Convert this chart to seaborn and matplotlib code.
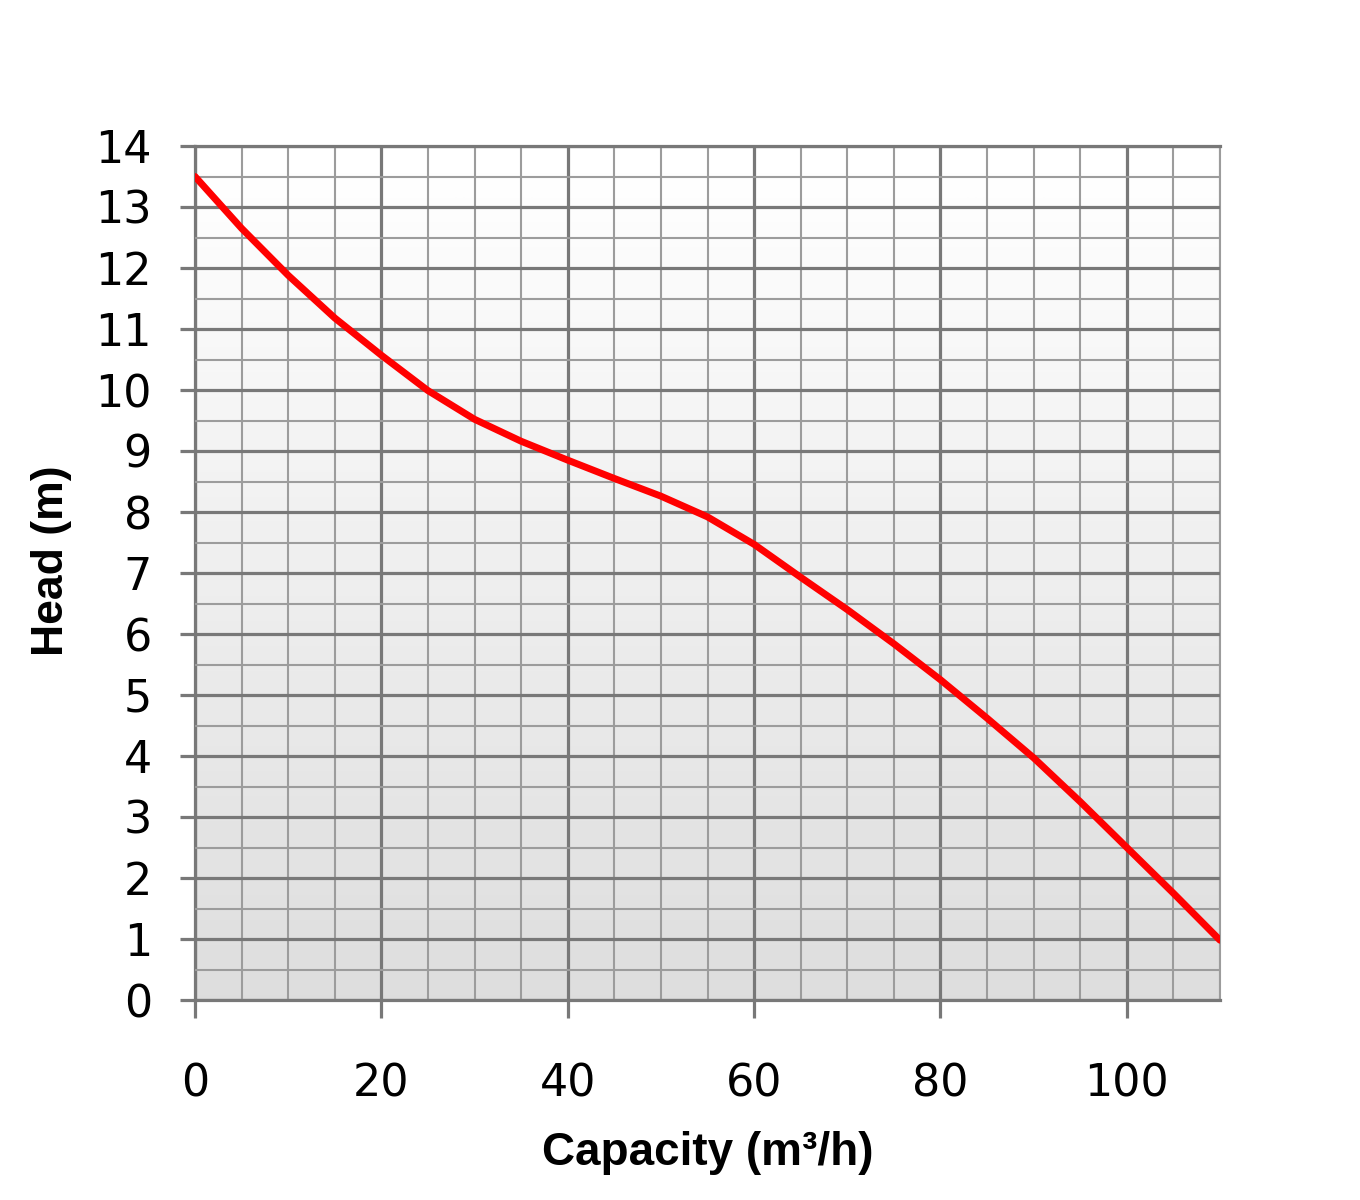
import numpy as np
import pandas as pd
import matplotlib
matplotlib.use("Agg")
import matplotlib.pyplot as plt
import seaborn as sns

# Data
capacity = [0, 5, 10, 15, 20, 25, 30, 35, 40, 45, 50, 55, 60, 65, 70, 75, 80, 85, 90, 95, 100, 105, 110]
head = [13.5, 12.65, 11.88, 11.18, 10.57, 9.99, 9.52, 9.16, 8.85, 8.55, 8.26, 7.92, 7.47,
        6.93, 6.4, 5.84, 5.25, 4.62, 3.97, 3.25, 2.5, 1.75, 0.98]
x_ticks = [0, 20, 40, 60, 80, 100]
y_ticks = list(range(0, 15))
x_label = "Capacity (m³/h)"
y_label = "Head (m)"

sns.set_style("white")
plt.rcParams['font.family'] = ['DejaVu Sans']
plt.rcParams['text.color'] = 'black'
plt.rcParams['xtick.labelcolor'] = 'black'
plt.rcParams['ytick.labelcolor'] = 'black'
plt.rcParams['axes.labelcolor'] = 'black'

fig = plt.figure(figsize=(13.6, 12), dpi=100)
ax = fig.add_axes([195/1360, 1 - 1000/1200, (1220-195)/1360, (1000-146)/1200])

# gradient background
grad = np.linspace(255, 221, 256).reshape(-1, 1) / 255.0
ax.imshow(np.repeat(grad, 2, axis=1), cmap='gray', vmin=0, vmax=1,
          extent=[0, 110, 0, 14], origin='upper', aspect='auto', zorder=0,
          interpolation='bilinear')

df = pd.DataFrame({"Capacity": capacity, "Head": head})
sns.lineplot(data=df, x="Capacity", y="Head", ax=ax, color="#ff0000", linewidth=5,
             zorder=5, solid_joinstyle='round', solid_capstyle='round')

ax.set_xlim(0, 110)
ax.set_ylim(0, 14)
ax.set_xticks(x_ticks)
ax.set_xticks(np.arange(0, 111, 5), minor=True)
ax.set_yticks(y_ticks)
ax.set_yticks(np.arange(0, 14.01, 0.5), minor=True)

major_c = "#787878"
minor_c = "#9c9c9c"
ax.grid(which='major', color=major_c, linewidth=2.3, zorder=1)
ax.grid(which='minor', color=minor_c, linewidth=1.5, zorder=1)
ax.set_axisbelow(False)

for s in ['left', 'bottom', 'top']:
    ax.spines[s].set_color(major_c)
    ax.spines[s].set_linewidth(2.3)
ax.spines['right'].set_color(minor_c)
ax.spines['right'].set_linewidth(1.5)
for s in ax.spines.values():
    s.set_visible(True)
    s.set_zorder(2)

ax.tick_params(axis='both', which='minor', length=0)
ax.tick_params(axis='y', which='major', length=11, width=2.3, color=major_c,
               labelsize=32, pad=20, direction='out', left=True, labelcolor='black')
ax.tick_params(axis='x', which='major', length=13, width=2.3, color=major_c,
               labelsize=32, pad=32, direction='out', bottom=True, labelcolor='black')

ax.set_xlabel(x_label, fontsize=33, fontweight='bold', color='black',
              family=['Liberation Sans', 'DejaVu Sans'])
ax.set_ylabel(y_label, fontsize=32, fontweight='bold', color='black',
              family=['Liberation Sans', 'DejaVu Sans'])
ax.xaxis.set_label_coords(0.5, -0.153)
ax.yaxis.set_label_coords(-0.12, 0.515)

fig.savefig("out.png", dpi=100, facecolor="white")
